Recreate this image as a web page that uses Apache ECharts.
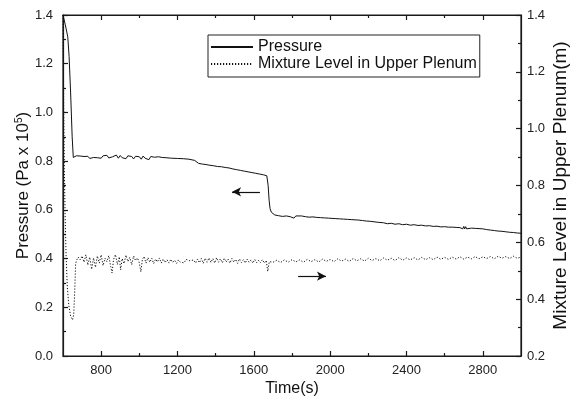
<!DOCTYPE html>
<html>
<head>
<meta charset="utf-8">
<script src="https://cdn.jsdelivr.net/npm/echarts@6/dist/echarts.min.js"></script>
<style>html,body{margin:0;padding:0;background:#fff}#c{width:571px;height:406px}</style>
</head>
<body>
<div id="c"></div>
<script>
// ---- data ----
const seriesNames = ['Pressure', 'Mixture Level in Upper Plenum'];
const xMajorTicks = [800, 1200, 1600, 2000, 2400, 2800];
const xMinorTicks = [1000, 1400, 1800, 2200, 2600];

const pressureTime = [600,612,625,632,640,648,654,660,670,680,690,700,710,720,730,740,750,760,770,780,790,800,810,820,830,840,850,860,870,880,890,900,910,920,930,940,950,960,970,980,990,1000,1010,1020,1030,1040,1050,1060,1070,1080,1090,1100,1110,1120,1130,1140,1150,1170,1200,1230,1260,1290,
1300,1310,1320,1330,1340,1350,1360,1370,1380,1390,1400,1410,1420,1430,1440,1450,1460,1470,1480,1490,1500,1510,1520,1530,1540,1550,1560,1570,1580,1590,1600,1610,1620,1630,1640,1650,1660,1668,1675,1680,1685,1692,
1700,1710,1720,1730,1740,1750,1760,1770,1780,1790,1800,1810,1820,1830,1850,1870,1890,1900,1910,1920,1930,1940,1950,1960,1970,1980,1990,2000,2010,2020,2030,2040,2050,2060,2070,2080,2090,2100,2110,2120,2130,2140,2150,2160,2170,2180,2190,2200,2210,2220,2230,2240,2250,2260,2280,2300,2320,2340,2360,2380,2400,2420,2440,2460,2480,2500,2520,2540,2560,2580,2600,2620,2640,2660,2680,2690,2695,2700,2705,2710,2715,2720,2740,2760,2780,2800,2820,2830,2840,2850,2860,2870,2880,2890,2900,2910,2920,2930,2940,2950,2960,2970,2980,2990,3000];
const pressureValue = [1.400,1.360,1.310,1.230,1.080,0.900,0.815,0.808,0.822,0.816,0.821,0.818,0.819,0.817,0.820,0.811,0.819,0.815,0.821,0.814,0.820,0.812,0.822,0.816,0.824,0.813,0.820,0.818,0.811,0.825,0.812,0.823,0.814,0.821,0.810,0.822,0.815,0.819,0.809,0.820,0.813,0.818,0.808,0.821,0.812,0.817,0.806,0.819,0.811,0.816,0.808,0.818,0.812,0.815,0.810,0.814,0.812,0.812,0.811,0.810,0.808,0.803,
0.797,0.791,0.796,0.788,0.792,0.786,0.790,0.783,0.788,0.781,0.785,0.778,0.784,0.777,0.781,0.774,0.778,0.772,0.776,0.768,0.772,0.765,0.770,0.762,0.767,0.759,0.764,0.756,0.761,0.753,0.758,0.750,0.755,0.747,0.752,0.744,0.748,0.740,0.700,0.640,0.605,0.590,
0.582,0.579,0.584,0.576,0.580,0.573,0.578,0.575,0.577,0.572,0.574,0.566,0.575,0.577,0.575,0.572,0.570,0.566,0.571,0.564,0.569,0.562,0.568,0.563,0.567,0.560,0.566,0.561,0.565,0.558,0.564,0.557,0.563,0.555,0.562,0.554,0.561,0.553,0.560,0.552,0.559,0.551,0.558,0.550,0.556,0.549,0.554,0.548,0.553,0.547,0.551,0.546,0.549,0.545,0.547,0.543,0.545,0.541,0.543,0.539,0.541,0.537,0.539,0.536,0.537,0.534,0.535,0.532,0.533,0.530,0.531,0.529,0.529,0.528,0.527,0.532,0.522,0.532,0.522,0.531,0.522,0.526,0.525,0.524,0.523,0.522,0.519,0.524,0.517,0.521,0.515,0.520,0.513,0.518,0.512,0.516,0.510,0.515,0.508,0.513,0.507,0.511,0.505,0.509,0.504];

const levelTime = [600,602,604,607,611,616,622,630,640,650,656,661,666,672,680,690,700,710,720,730,740,750,760,770,780,790,800,810,820,830,840,850,857,865,875,885,895,902,910,920,930,940,950,960,970,980,990,1000,1008,1016,1025,1035,1045,1055,1065,1075,1085,1095,1105,1115,1125,1135,1145,1155,1165,1175,1185,1195,1205,1215,1225,1235,1245,1255,1265,1275,1285,1295,1305,1315,1325,1335,1345,1355,1365,1375,1385,1395,1405,1415,1425,1435,1445,1455,1465,1475,1485,1495,1505,1515,1525,1535,1545,1555,1565,1575,1585,1595,1605,1615,1625,1635,1645,1655,1665,1673,1681,1690,1700,
1720,1740,1760,1780,1800,1820,1840,1860,1880,1900,1920,1940,1960,1980,2000,2020,2040,2060,2080,2100,2120,2140,2160,2180,2200,2220,2240,2260,2280,2300,2320,2340,2360,2380,2400,2420,2440,2460,2480,2500,2520,2540,2560,2580,2600,2620,2640,2660,2680,2700,2720,2740,2760,2780,2800,2820,2840,2860,2880,2900,2920,2940,2960,2980,3000];
const levelValue = [1.400,1.250,1.050,0.860,0.700,0.560,0.450,0.380,0.340,0.327,0.345,0.420,0.525,0.538,0.548,0.538,0.552,0.530,0.556,0.520,0.548,0.505,0.545,0.512,0.552,0.527,0.556,0.518,0.544,0.532,0.553,0.515,0.492,0.540,0.557,0.522,0.549,0.503,0.543,0.525,0.555,0.532,0.547,0.521,0.552,0.536,0.545,0.528,0.496,0.540,0.550,0.527,0.546,0.530,0.544,0.525,0.541,0.531,0.545,0.527,0.541,0.529,0.539,0.527,0.540,0.529,0.537,0.526,0.538,0.530,0.536,0.528,0.540,0.533,0.535,0.528,0.538,0.527,0.541,0.528,0.543,0.526,0.544,0.530,0.545,0.529,0.543,0.527,0.546,0.530,0.542,0.528,0.544,0.531,0.541,0.527,0.543,0.530,0.540,0.526,0.542,0.529,0.539,0.527,0.541,0.530,0.538,0.527,0.540,0.528,0.537,0.529,0.539,0.527,0.536,0.498,0.532,0.538,0.530,
0.537,0.529,0.538,0.530,0.539,0.531,0.538,0.530,0.540,0.532,0.539,0.531,0.541,0.533,0.540,0.532,0.542,0.534,0.541,0.533,0.543,0.535,0.542,0.534,0.544,0.536,0.543,0.535,0.545,0.537,0.544,0.536,0.546,0.537,0.545,0.538,0.546,0.538,0.547,0.539,0.546,0.539,0.548,0.540,0.547,0.540,0.548,0.541,0.549,0.541,0.548,0.542,0.550,0.542,0.549,0.543,0.550,0.542,0.551,0.544,0.550,0.543,0.551,0.544,0.548];

// annotation arrows (data coordinates)
const pressureArrow = {from: [1632, 0.674], to: [1486, 0.674]};
const levelArrow = {from: [1832, 0.481], to: [1978, 0.481]};

// ---- chart ----
const zip = (a, b) => a.map((t, i) => [t, b[i]]);
const ink = '#1a1a1a';
const FONT = 'Liberation Sans, Arial, sans-serif';

function xAxisBase(pos, ticks, len, showLine, showLabel) {
  return {
    type: 'value', position: pos, min: 600, max: 3000, interval: 200,
    axisLine: {show: showLine, onZero: false, lineStyle: {color: ink, width: 1.2}},
    axisTick: {show: true, inside: true, length: len, customValues: ticks, lineStyle: {color: ink, width: 1.2}},
    axisLabel: {show: showLabel, customValues: ticks, color: '#222', fontSize: 13, fontFamily: FONT, margin: 8,
      formatter: v => String(v)},
    splitLine: {show: false}
  };
}

const chart = echarts.init(document.getElementById('c'), null, {renderer: 'canvas'});
chart.setOption({
  animation: false,
  backgroundColor: '#fff',
  grid: {left: 63, right: 50, top: 15, bottom: 50, outerBoundsMode: 'none', containLabel: false,
    show: true, borderColor: ink, borderWidth: 1.2, backgroundColor: 'transparent'},
  legend: {
    left: 208, top: 35, orient: 'vertical',
    padding: [4, 3, 5, 2], itemGap: 1,
    itemWidth: 42, itemHeight: 14,
    borderColor: '#222', borderWidth: 1,
    itemStyle: {opacity: 0},
    textStyle: {fontSize: 16, fontFamily: FONT, color: '#111', lineHeight: 16},
    data: seriesNames
  },
  xAxis: [
    Object.assign(xAxisBase('bottom', xMajorTicks, 5, true, true), {
      name: 'Time(s)', nameLocation: 'middle', nameGap: 25, nameMoveOverlap: false,
      nameTextStyle: {fontSize: 16, fontFamily: FONT, color: '#111'}
    }),
    xAxisBase('bottom', xMinorTicks, 3, false, false),
    xAxisBase('top', xMajorTicks, 5, true, false),
    xAxisBase('top', xMinorTicks, 3, false, false)
  ],
  yAxis: [
    {
      type: 'value', position: 'left', min: 0, max: 1.4, interval: 0.2,
      name: 'Pressure (Pa x 10{sup|5})', nameLocation: 'middle', nameGap: 30, nameRotate: 90, nameMoveOverlap: false,
      nameTextStyle: {fontSize: 17, fontFamily: FONT, color: '#111',
        rich: {sup: {fontSize: 10, fontFamily: FONT, color: '#111', verticalAlign: 'top', padding: [0, 0, 9, 0]}}},
      axisLine: {show: true, onZero: false, lineStyle: {color: ink, width: 1.2}},
      axisTick: {show: true, inside: true, length: 5, lineStyle: {color: ink, width: 1.2}},
      minorTick: {show: true, splitNumber: 2, length: 3, lineStyle: {color: ink, width: 1.2}},
      axisLabel: {color: '#222', fontSize: 13, fontFamily: FONT, margin: 10, formatter: v => v.toFixed(1)},
      splitLine: {show: false}
    },
    {
      type: 'value', position: 'right', min: 0.2, max: 1.4, interval: 0.2,
      name: 'Mixture Level in Upper Plenum(m)', nameLocation: 'middle', nameGap: 30, nameRotate: 90, nameMoveOverlap: false,
      nameTextStyle: {fontSize: 19, fontFamily: FONT, color: '#111'},
      axisLine: {show: true, onZero: false, lineStyle: {color: ink, width: 1.2}},
      axisTick: {show: true, inside: true, length: 5, lineStyle: {color: ink, width: 1.2}},
      minorTick: {show: true, splitNumber: 2, length: 3, lineStyle: {color: ink, width: 1.2}},
      axisLabel: {color: '#222', fontSize: 13, fontFamily: FONT, margin: 6, formatter: v => v.toFixed(1)},
      splitLine: {show: false}
    }
  ],
  series: [
    {
      name: seriesNames[0], type: 'line', xAxisIndex: 0, yAxisIndex: 0,
      data: zip(pressureTime, pressureValue),
      symbol: 'none', showSymbol: false,
      lineStyle: {color: '#111', width: 1},
      itemStyle: {color: '#111'},
      markLine: {
        silent: true, symbol: ['none', 'arrow'], symbolSize: [7, 9],
        label: {show: false},
        lineStyle: {color: '#111', width: 1.2, type: 'solid'},
        data: [[{coord: pressureArrow.from}, {coord: pressureArrow.to}]]
      }
    },
    {
      name: seriesNames[1], type: 'line', xAxisIndex: 0, yAxisIndex: 1,
      data: zip(levelTime, levelValue),
      symbol: 'none', showSymbol: false,
      lineStyle: {color: '#111', width: 1, type: [1.2, 1.8]},
      itemStyle: {color: '#111'},
      markLine: {
        silent: true, symbol: ['none', 'arrow'], symbolSize: [7, 9],
        label: {show: false},
        lineStyle: {color: '#111', width: 1.2, type: 'solid'},
        data: [[{coord: levelArrow.from}, {coord: levelArrow.to}]]
      }
    }
  ]
});
</script>
</body>
</html>
